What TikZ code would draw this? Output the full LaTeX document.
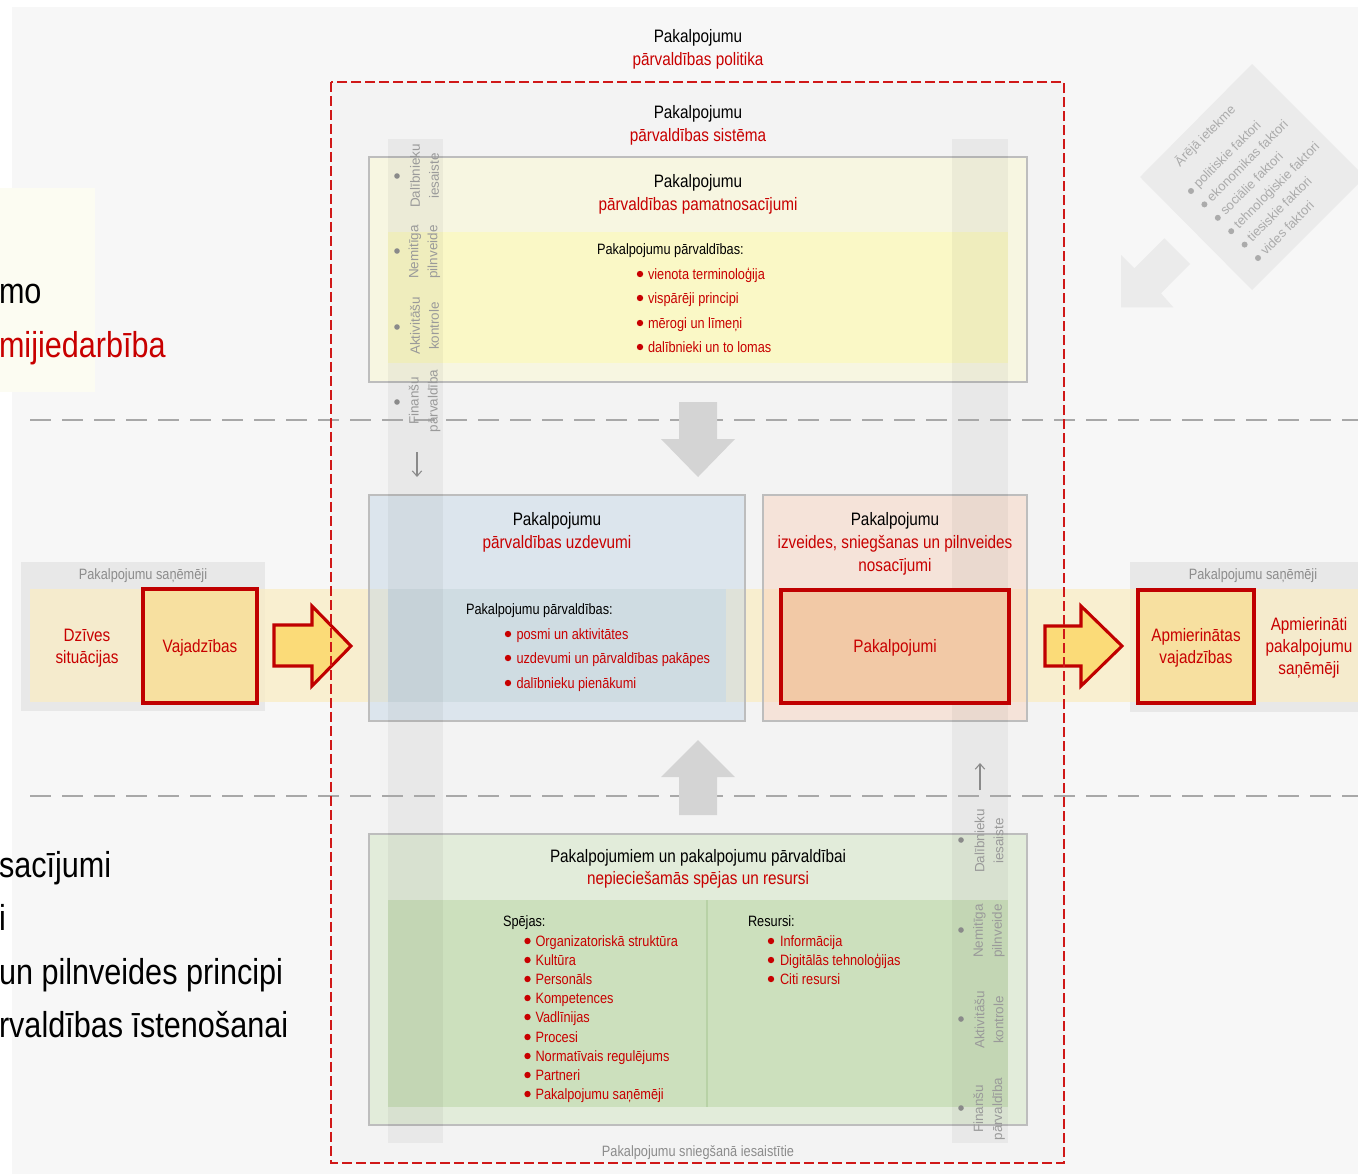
\documentclass[tikz,border=0pt]{standalone}
\usepackage{fontspec}
\setmainfont{Liberation Sans}
\newfontfamily\narrowfont{Liberation Sans}[FakeStretch=0.85]
\usetikzlibrary{arrows.meta}

\definecolor{bgpage}{HTML}{F7F7F7}
\definecolor{bgsys}{HTML}{F3F3F3}
\definecolor{paleyel}{HTML}{FCFCF2}
\definecolor{redtxt}{HTML}{C80000}
\definecolor{reddash}{HTML}{D01818}
\definecolor{boldred}{HTML}{C00000}
\definecolor{boxline}{HTML}{BDBDBD}
\definecolor{greytxt}{HTML}{8C8C8C}
\definecolor{sidetxt}{HTML}{9A9A9A}
\definecolor{sidedot}{HTML}{8A8A8A}
\definecolor{dashgrey}{HTML}{A8A8A8}
\definecolor{yelbox}{HTML}{F7F6E1}
\definecolor{yelinner}{HTML}{FAF8C6}
\definecolor{bandyel}{HTML}{FAEDC4}
\definecolor{bluebox}{RGB}{194,213,231}
\definecolor{blueinner}{RGB}{160,205,255}
\definecolor{orangebox}{RGB}{248,208,186}
\definecolor{greenbox}{HTML}{E2ECDA}
\definecolor{greeninner}{HTML}{CCE0BD}
\definecolor{greenline}{HTML}{B8D2A6}
\definecolor{recipbox}{HTML}{E8E8E8}
\definecolor{needfill}{HTML}{F7E0A0}
\definecolor{servfill}{HTML}{F2C9A6}
\definecolor{arrowfill}{HTML}{FBDB78}
\definecolor{bigarrow}{HTML}{D4D4D4}
\definecolor{extgrey}{HTML}{EBEBEB}
\definecolor{exttxt}{HTML}{ABABAB}

\tikzset{
  tx/.style={inner sep=0pt, outer sep=0pt},
  ttl/.style={tx, anchor=base, font=\narrowfont\fontsize{13.5pt}{16pt}\selectfont},
  ttlred/.style={ttl, text=redtxt},
  lsthead/.style={tx, anchor=base west, font=\narrowfont\fontsize{11.25pt}{14pt}\selectfont},
  lstitem/.style={lsthead, text=redtxt},
  greylbl/.style={tx, anchor=base, font=\narrowfont\fontsize{11.25pt}{14pt}\selectfont, text=greytxt},
  sidelbl/.style={tx, rotate=90, align=center, font=\fontsize{10.1pt}{14.25pt}\selectfont, text=sidetxt},
  bigtxt/.style={tx, anchor=base west, font=\narrowfont\fontsize{27pt}{32pt}\selectfont},
  exttext/.style={tx, rotate=45, anchor=base west, font=\fontsize{9.75pt}{12pt}\selectfont, text=exttxt},
  panel/.style={draw=boxline, line width=1pt},
  needbox/.style={draw=boldred, line width=2.55pt, fill=needfill},
  flowarrow/.style={draw=boldred, line width=2.3pt, fill=arrowfill, line join=miter},
  blockarrow/.style={fill=bigarrow},
  partstrip/.style={fill=black, fill opacity=0.045},
  sepline/.style={draw=dashgrey, line width=1.1pt, dash pattern=on 15.75pt off 8.25pt},
  sysframe/.style={draw=reddash, line width=1pt, dash pattern=on 7.5pt off 3pt},
  thinarrow/.style={draw=sidedot, line width=0.8pt, -{Straight Barb[length=4pt,width=7pt]}},
}

\begin{document}
\begin{tikzpicture}[x=0.75pt,y=-0.75pt]
\useasboundingbox (0,0) rectangle (1358,1174);
\clip (0,0) rectangle (1358,1174);

% page and system area
\fill[white] (0,0) rectangle (1358,1174);
\fill[bgpage] (12,7) rectangle (1358,1174);
\fill[paleyel] (0,188) rectangle (95,392);
\fill[bgsys] (331,82) rectangle (1064,1163);

% external influence
\fill[extgrey] (1252,64) -- (1365,177) -- (1252,290) -- (1140,177) -- cycle;
\fill[extgrey] (1121,255) -- (1134.3,268.3) -- (1164.3,238.3) -- (1190,264)
  -- (1161,293.3) -- (1173.3,307.3) -- (1121,307.3) -- cycle;

% recipients
\fill[recipbox] (21,562) rectangle (265,711);
\fill[recipbox] (1130,562) rectangle (1358,712);

% principles
\fill[yelbox] (369,157) rectangle (1027,382);
\fill[yelinner] (388,232) rectangle (1008,363);
\draw[panel] (369,157) rectangle (1027,382);

% capabilities and resources
\fill[greenbox] (369,834) rectangle (1027,1125);
\fill[greeninner] (388,900) rectangle (1008,1107);
\draw[greenline, line width=0.8pt] (707,900) -- (707,1107);
\draw[panel] (369,834) rectangle (1027,1125);

% value stream band
\fill[bandyel, fill opacity=0.75] (30,589) rectangle (1358,702);

% tasks and conditions
\fill[bluebox, fill opacity=0.45] (369,495) rectangle (745,721);
\fill[blueinner, fill opacity=0.25] (388,589) rectangle (726,702);
\draw[panel] (369,495) rectangle (745,721);
\fill[orangebox, fill opacity=0.45] (763,495) rectangle (1027,721);
\draw[panel] (763,495) rectangle (1027,721);

% participants strips
\fill[partstrip] (388,139) rectangle (443,1143);
\fill[partstrip] (952,139) rectangle (1008,1143);

% level separators
\draw[sepline] (30,420) -- (1358,420);
\draw[sepline] (30,796) -- (1358,796);

% grey block arrows
\fill[blockarrow] (679,402) -- (717,402) -- (717,439) -- (735,439) -- (698,477)
  -- (661,439) -- (679,439) -- cycle;
\fill[blockarrow] (679,815) -- (717,815) -- (717,777) -- (735,777) -- (698,740)
  -- (661,777) -- (679,777) -- cycle;

% needs, services, satisfied needs
\draw[needbox] (143,589) rectangle (257,703);
\draw[needbox, fill=servfill] (781,590) rectangle (1009,703);
\draw[needbox] (1138,590) rectangle (1254,703);
\draw[flowarrow] (274,625) -- (312,625) -- (312,606) -- (351,646) -- (312,686)
  -- (312,666) -- (274,666) -- cycle;
\draw[flowarrow] (1045,626) -- (1081,626) -- (1081,606) -- (1122,646) -- (1081,686)
  -- (1081,666) -- (1045,666) -- cycle;

% system frame
\draw[sysframe] (331,82) rectangle (1064,1163);

% left margin text
\node[bigtxt] (m1) at (-1,303) {mo};
\node[bigtxt, text=redtxt] (m2) at (-1,357) {mijiedarbība};
\node[bigtxt] (m3) at (-1,877) {sacījumi};
\node[bigtxt] (m4) at (-1,930) {i};
\node[bigtxt] (m5) at (-1,984) {un pilnveides principi};
\node[bigtxt] (m6) at (-1,1037) {rvaldības īstenošanai};

% titles
\node[ttl] (pol1) at (698,42) {Pakalpojumu};
\node[ttlred] (pol2) at (698,65) {pārvaldības politika};
\node[ttl] (sys1) at (698,118) {Pakalpojumu};
\node[ttlred] (sys2) at (698,141) {pārvaldības sistēma};
\node[ttl] (pam1) at (698,187) {Pakalpojumu};
\node[ttlred] (pam2) at (698,210) {pārvaldības pamatnosacījumi};
\node[ttl] (uzd1) at (557,525) {Pakalpojumu};
\node[ttlred] (uzd2) at (557,548) {pārvaldības uzdevumi};
\node[ttl] (nos1) at (895,525) {Pakalpojumu};
\node[ttlred] (nos2) at (895,548) {izveides, sniegšanas un pilnveides};
\node[ttlred] (nos3) at (895,571) {nosacījumi};
\node[ttl] (res1) at (698,862) {Pakalpojumiem un pakalpojumu pārvaldībai};
\node[ttlred] (res2) at (698,884) {nepieciešamās spējas un resursi};

% principles list
\node[lsthead] (pamh) at (597,254) {Pakalpojumu pārvaldības:};
\foreach \yy/\itm [count=\i] in {274/vienota terminoloģija, 298/vispārēji principi,
    323/mērogi un līmeņi, 347/dalībnieki un to lomas}{
  \fill[redtxt] (640,\yy) circle[radius=3.2];
  \node[lstitem] (pam-\i) at (648,\yy+5) {\itm};
}

% tasks list
\node[lsthead] (uzdh) at (466,614) {Pakalpojumu pārvaldības:};
\foreach \yy/\itm [count=\i] in {634/posmi un aktivitātes,
    658/uzdevumi un pārvaldības pakāpes, 683/dalībnieku pienākumi}{
  \fill[redtxt] (508,\yy) circle[radius=3.2];
  \node[lstitem] (uzd-\i) at (516.5,\yy+5) {\itm};
}

% capabilities list
\node[lsthead] (spj) at (503,926) {Spējas:};
\foreach \yy/\itm [count=\i] in {941/Organizatoriskā struktūra, 960/Kultūra,
    979/Personāls, 998/Kompetences, 1017/Vadlīnijas, 1037/Procesi,
    1056/Normatīvais regulējums, 1075/Partneri, 1094/Pakalpojumu saņēmēji}{
  \fill[redtxt] (527.5,\yy) circle[radius=3.2];
  \node[lstitem] (spj-\i) at (535.5,\yy+5) {\itm};
}
\node[lsthead] (rsr) at (748,926) {Resursi:};
\foreach \yy/\itm [count=\i] in {941/Informācija, 960/Digitālās tehnoloģijas,
    979/Citi resursi}{
  \fill[redtxt] (771,\yy) circle[radius=3.2];
  \node[lstitem] (rsr-\i) at (780,\yy+5) {\itm};
}

% recipients and value stream labels
\node[greylbl] (rcp1) at (143,579) {Pakalpojumu saņēmēji};
\node[greylbl] (rcp2) at (1253,579) {Pakalpojumu saņēmēji};
\node[ttlred] (dz1) at (87,641) {Dzīves};
\node[ttlred] (dz2) at (87,663) {situācijas};
\node[ttlred] (vaj) at (200,652) {Vajadzības};
\node[ttlred] (pak) at (895,652) {Pakalpojumi};
\node[ttlred] (apv1) at (1196,641) {Apmierinātas};
\node[ttlred] (apv2) at (1196,663) {vajadzības};
\node[ttlred] (aps1) at (1309,630) {Apmierināti};
\node[ttlred] (aps2) at (1309,652) {pakalpojumu};
\node[ttlred] (aps3) at (1309,674) {saņēmēji};
\node[greylbl] (iesaist) at (698,1156) {Pakalpojumu sniegšanā iesaistītie};

% participant aspects, left strip
\foreach \dy/\ly/\itm [count=\i] in {176/176/{Dalībnieku\\iesaiste},
    251/252/{Nemitīga\\pilnveide}, 327/326/{Aktivitāšu\\kontrole},
    402/401/{Finanšu\\pārvaldība}}{
  \fill[sidedot] (397,\dy) circle[radius=2.8];
  \node[sidelbl] (lasp-\i) at (424.5,\ly) {\itm};
}
% participant aspects, right strip
\foreach \dy/\ly/\itm [count=\i] in {840/841/{Dalībnieku\\iesaiste},
    930/931/{Nemitīga\\pilnveide}, 1019/1020/{Aktivitāšu\\kontrole},
    1108/1109/{Finanšu\\pārvaldība}}{
  \fill[sidedot] (961,\dy) circle[radius=2.8];
  \node[sidelbl] (rasp-\i) at (989,\ly) {\itm};
}
\coordinate (ldown-a) at (417,452);
\coordinate (ldown-b) at (417,477);
\draw[thinarrow] (ldown-a) -- (ldown-b);
\coordinate (rup-a) at (980,790);
\coordinate (rup-b) at (980,763);
\draw[thinarrow] (rup-a) -- (rup-b);

% external factors
\node[exttext] (ext-t) at (1180,167) {Ārējā ietekme};
\foreach \itm [count=\k from 0] in {politiskie faktori, ekonomikas faktori,
    sociālie faktori, tehnoloģiskie faktori, tiesiskie faktori, vides faktori}{
  \fill[exttxt] ({1191+13.4*\k},{191+13.4*\k}) circle[radius=3];
  \node[exttext] (ext-\k) at ({1198.8+13.4*\k},{188.8+13.4*\k}) {\itm};
}
\end{tikzpicture}
\end{document}
